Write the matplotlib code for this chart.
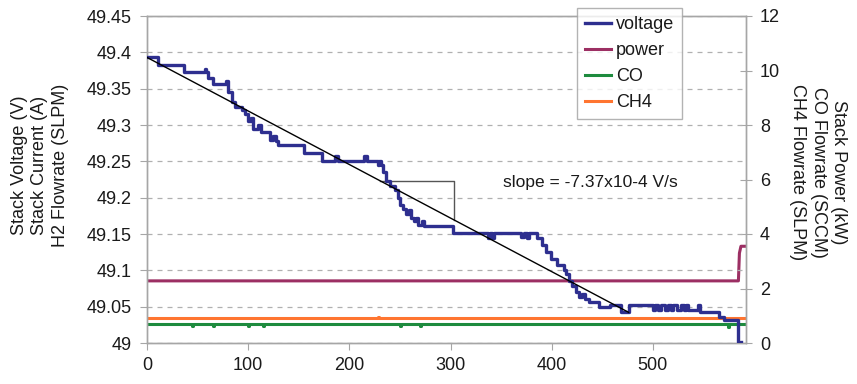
import matplotlib
matplotlib.use("Agg")
import matplotlib.pyplot as plt
import numpy as np

plt.rcParams['font.family'] = ['Liberation Sans', 'DejaVu Sans']

# ---- data ----
v_t = [0, 11, 37, 57, 58, 60, 65, 78, 80, 84, 87, 94, 97, 100, 103, 105, 110, 113,
       122, 125, 127, 129, 155, 173, 186, 189, 214, 217, 228, 229, 231, 233, 236, 240,
       245, 248, 250, 253, 256, 259, 261, 264, 266, 268, 272, 274, 302, 337, 339, 341,
       343, 370, 373, 376, 378, 385, 390, 394, 399, 405, 412, 414, 417, 420, 424, 427,
       430, 433, 437, 447, 458, 468, 476, 500, 502, 505, 508, 512, 515, 518, 520, 524,
       528, 531, 533, 535, 545, 547, 565, 570, 584, 587]
v_val = [49.393, 49.383, 49.373, 49.377, 49.373, 49.364, 49.357, 49.360, 49.346, 49.332,
         49.325, 49.320, 49.315, 49.306, 49.310, 49.295, 49.300, 49.290, 49.280, 49.285,
         49.278, 49.272, 49.262, 49.251, 49.258, 49.251, 49.258, 49.251, 49.245, 49.251,
         49.245, 49.235, 49.223, 49.216, 49.210, 49.200, 49.190, 49.185, 49.178, 49.183,
         49.172, 49.168, 49.172, 49.163, 49.168, 49.161, 49.152, 49.145, 49.152, 49.145,
         49.152, 49.146, 49.152, 49.145, 49.152, 49.145, 49.135, 49.125, 49.115, 49.108,
         49.100, 49.095, 49.085, 49.078, 49.070, 49.063, 49.067, 49.060, 49.057, 49.050,
         49.052, 49.042, 49.052, 49.045, 49.052, 49.045, 49.052, 49.045, 49.052, 49.045,
         49.052, 49.045, 49.052, 49.045, 49.052, 49.045, 49.052, 49.043, 49.036, 49.032,
         49.002, 49.002]

p_t = [0, 584.5, 585.5, 587, 591]
p_val = [2.28, 2.28, 3.3, 3.55, 3.55]

co_t = [0, 44, 45, 65, 66, 100, 101, 115, 116, 250, 251, 270, 271, 574, 575, 591]
co_val = [0.69, 0.62, 0.69, 0.63, 0.69, 0.62, 0.69, 0.63, 0.69, 0.63, 0.69, 0.62, 0.69, 0.58, 0.69, 0.69]

ch4_t = [0, 228, 229, 591]
ch4_val = [0.93, 0.97, 0.93, 0.93]

trend_t = [0, 476]
slope = -7.37e-4
trend_v0 = 49.393

x_ticks = [0, 100, 200, 300, 400, 500]
left_ticks = [49.0, 49.05, 49.1, 49.15, 49.2, 49.25, 49.3, 49.35, 49.4, 49.45]
left_labels = ['49', '49.05', '49.1', '49.15', '49.2', '49.25', '49.3', '49.35', '49.4', '49.45']
right_ticks = [0, 2, 4, 6, 8, 10, 12]

# ---- figure ----
W, H = 857, 384
fig = plt.figure(figsize=(W / 100, H / 100), dpi=100)
L, R, T, B = 147, 746, 16, 343
ax = fig.add_axes([L / W, 1 - B / H, (R - L) / W, (B - T) / H])
ax2 = ax.twinx()
ax.set_zorder(ax2.get_zorder() + 1)
ax.patch.set_visible(False)

c_v, c_p, c_co, c_ch4 = '#2e2f8f', '#9c2f63', '#1e8b3e', '#ff7530'
spine_c = '#a6a6a6'
txt_c = '#1a1a1a'

hv, = ax.plot(v_t, v_val, drawstyle='steps-post', color=c_v, lw=2.4, zorder=3, label='voltage')
tv = np.array(trend_t, dtype=float)
ax.plot(tv, trend_v0 + slope * tv, color='black', lw=1.0, zorder=4)
# slope triangle
t_b = 303.5
v_top = 49.223
t_a = (v_top - trend_v0) / slope
ax.plot([t_a, t_b, t_b], [v_top, v_top, trend_v0 + slope * t_b], color='#555555', lw=1.0, zorder=2)
ax.text(352, 49.221, 'slope = -7.37x10-4 V/s', fontsize=12.5, color=txt_c, va='center', ha='left')

hp, = ax2.plot(p_t, p_val, color=c_p, lw=2.2, label='power')
hco, = ax2.plot(co_t, co_val, drawstyle='steps-post', color=c_co, lw=2.2, label='CO')
hch, = ax2.plot(ch4_t, ch4_val, drawstyle='steps-post', color=c_ch4, lw=2.2, label='CH4')

ax.set_xlim(0, 592)
ax.set_ylim(49.0, 49.45)
ax2.set_ylim(0, 12)
ax.set_xticks(x_ticks)
ax.set_yticks(left_ticks)
ax.set_yticklabels(left_labels)
ax2.set_yticks(right_ticks)

for a in (ax, ax2):
    for s in a.spines.values():
        s.set_color(spine_c)
        s.set_linewidth(1.0)

ax.yaxis.grid(True, linestyle=(0, (4, 4)), color='#b0b0b0', lw=0.9)
ax.set_axisbelow(True)

ax.tick_params(axis='x', direction='out', length=5, color=spine_c, labelsize=13, labelcolor=txt_c, pad=5)
ax.tick_params(axis='y', direction='out', length=5, color=spine_c, labelsize=13, labelcolor=txt_c, pad=6)
ax2.tick_params(axis='y', direction='inout', length=8, color=spine_c, labelsize=13, labelcolor=txt_c, pad=6)

fig.text(40 / W, 1 - 165 / H, 'Stack Voltage (V)\nStack Current (A)\nH2 Flowrate (SLPM)',
         rotation=90, ha='center', va='center', fontsize=13, color=txt_c,
         multialignment='center', linespacing=1.3)
fig.text(818 / W, 1 - 172 / H, 'Stack Power (kW)\nCO Flowrate (SCCM)\nCH4 Flowrate (SLPM)',
         rotation=270, ha='center', va='center', fontsize=13, color=txt_c,
         multialignment='center', linespacing=1.3)

leg = ax.legend(handles=[hv, hp, hco, hch], loc='upper left',
                bbox_to_anchor=(577 / W, 1 - 8 / H), bbox_transform=fig.transFigure,
                fontsize=13, frameon=True, fancybox=False, borderaxespad=0,
                handlelength=1.45, handletextpad=0.25, labelspacing=0.5, borderpad=0.45)
leg.get_frame().set_edgecolor('#a0a0a0')
leg.get_frame().set_linewidth(1.0)
for t in leg.get_texts():
    t.set_color(txt_c)

fig.savefig('out.png', dpi=100)
